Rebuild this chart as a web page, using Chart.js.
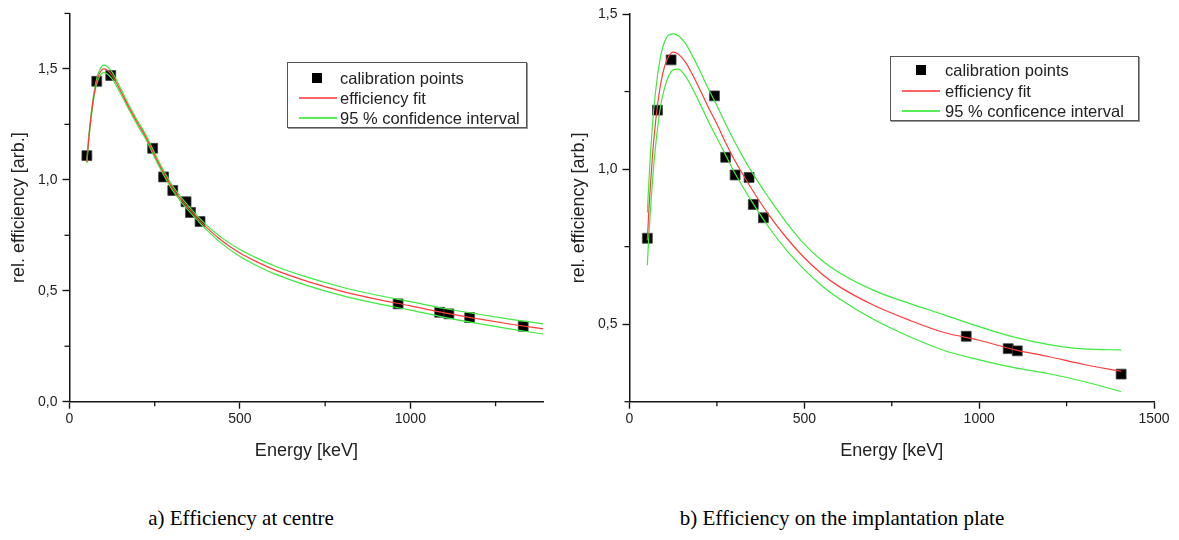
<!DOCTYPE html>
<html>
<head>
<meta charset="utf-8">
<script src="https://cdn.jsdelivr.net/npm/chart.js@4.4.1/dist/chart.umd.min.js"></script>
<style>
  html, body { margin: 0; padding: 0; background: #fff; }
  body { width: 1179px; height: 540px; position: relative; overflow: hidden; font-family: "Liberation Sans", Arial, sans-serif; }
  canvas { position: absolute; top: 0; }
  .leg { position: absolute; border: 1px solid #555; box-shadow: 1px 1px 0 #999; background: #fff; }
  .mk { position: absolute; width: 10px; height: 10px; background: #000; }
  .ln { position: absolute; height: 2px; }
  .tx { position: absolute; font-size: 16.5px; color: #222; white-space: nowrap; line-height: 20px; }
  .cap { position: absolute; font-family: "Liberation Serif", "Times New Roman", serif; font-size: 21px; color: #000; white-space: nowrap; transform: translateX(-50%); }
</style>
</head>
<body>
<canvas id="chartA" width="560" height="470" style="left:0px"></canvas>
<canvas id="chartB" width="619" height="470" style="left:560px"></canvas>
<div id="legA" class="leg" style="left:287px;top:62px;width:238px;height:64px"></div>
<div id="legB" class="leg" style="left:890px;top:56px;width:247px;height:63px"></div>
<div class="cap" style="left:241px;top:506px">a) Efficiency at centre</div>
<div class="cap" style="left:842px;top:506px">b) Efficiency on the implantation plate</div>
<script>
// ---------- (a) Efficiency at centre ----------
const calA_energy = [51, 80, 121, 244, 276, 303, 342, 355, 383, 964, 1086, 1113, 1174, 1331];
const calA_eff    = [1.109, 1.444, 1.470, 1.142, 1.013, 0.952, 0.901, 0.853, 0.812, 0.441, 0.403, 0.396, 0.379, 0.340];
const fitA_energy = [51, 55, 60, 70, 80, 90, 100, 110, 125, 150, 175, 200, 225, 250, 275, 300, 325, 350, 375, 400, 450, 500, 550, 600, 700, 800, 900, 1000, 1100, 1200, 1300, 1390];
const fitA_eff    = [1.08, 1.16, 1.24, 1.365, 1.445, 1.485, 1.50, 1.495, 1.47, 1.40, 1.325, 1.255, 1.19, 1.11, 1.035, 0.968, 0.915, 0.87, 0.828, 0.788, 0.722, 0.670, 0.630, 0.595, 0.541, 0.497, 0.462, 0.432, 0.40, 0.373, 0.348, 0.328];
const upA_eff     = [1.086, 1.168, 1.25, 1.375, 1.457, 1.50, 1.517, 1.512, 1.485, 1.412, 1.335, 1.265, 1.20, 1.12, 1.045, 0.978, 0.925, 0.88, 0.838, 0.798, 0.735, 0.686, 0.647, 0.613, 0.560, 0.516, 0.481, 0.451, 0.42, 0.394, 0.37, 0.351];
const loA_eff     = [1.074, 1.152, 1.23, 1.355, 1.433, 1.47, 1.483, 1.478, 1.455, 1.388, 1.315, 1.245, 1.18, 1.10, 1.025, 0.958, 0.905, 0.86, 0.818, 0.778, 0.709, 0.654, 0.613, 0.577, 0.522, 0.478, 0.443, 0.413, 0.38, 0.352, 0.326, 0.305];
const xMajorA = [0, 500, 1000];
const xMinorA = [250, 750, 1250];
const yMajorA = [0, 0.5, 1.0, 1.5];
const yMinorA = [0.25, 0.75, 1.25, 1.75];

// ---------- (b) Efficiency on the implantation plate ----------
const calB_energy = [51, 80, 119, 243, 275, 302, 342, 354, 383, 963, 1083, 1109, 1406];
const calB_eff    = [0.777, 1.190, 1.352, 1.236, 1.038, 0.981, 0.973, 0.886, 0.843, 0.461, 0.421, 0.414, 0.339];
const fitB_energy = [51, 55, 60, 65, 70, 80, 90, 100, 110, 125, 140, 160, 180, 200, 225, 250, 275, 300, 350, 400, 450, 500, 550, 600, 700, 800, 900, 1000, 1100, 1200, 1300, 1406];
const fitB_eff    = [0.77, 0.86, 0.95, 1.03, 1.10, 1.205, 1.28, 1.33, 1.36, 1.377, 1.37, 1.345, 1.305, 1.26, 1.20, 1.145, 1.085, 1.03, 0.935, 0.85, 0.777, 0.714, 0.662, 0.621, 0.560, 0.513, 0.473, 0.448, 0.418, 0.395, 0.37, 0.348];
const upB_eff     = [0.86, 0.95, 1.05, 1.13, 1.20, 1.30, 1.37, 1.41, 1.43, 1.436, 1.43, 1.405, 1.365, 1.32, 1.26, 1.205, 1.145, 1.09, 0.99, 0.905, 0.826, 0.758, 0.705, 0.666, 0.608, 0.567, 0.53, 0.492, 0.458, 0.434, 0.42, 0.417];
const loB_eff     = [0.69, 0.78, 0.87, 0.95, 1.02, 1.13, 1.21, 1.26, 1.295, 1.32, 1.322, 1.30, 1.26, 1.215, 1.155, 1.10, 1.045, 0.99, 0.895, 0.81, 0.737, 0.676, 0.624, 0.582, 0.514, 0.46, 0.415, 0.385, 0.36, 0.34, 0.315, 0.282];
const xMajorB = [0, 500, 1000, 1500];
const xMinorB = [250, 750, 1250];
const yMajorB = [0.5, 1.0, 1.5];
const yMinorB = [0.25, 0.75, 1.25];

const legendLabelsA = ["calibration points", "efficiency fit", "95 % confidence interval"];
const legendLabelsB = ["calibration points", "efficiency fit", "95 % conficence interval"];

const RED = 'rgb(255,60,60)';
const GREEN = 'rgb(60,235,60)';
const AXIS = '#151515';
const TXT = '#222';

const pairs = (xs, ys) => xs.map((x, i) => ({ x: x, y: ys[i] }));

const minorTicks = {
  id: 'minorTicks',
  afterDraw(chart, args, opts) {
    const ctx = chart.ctx;
    const xs = chart.scales.x, ys = chart.scales.y;
    ctx.save();
    ctx.strokeStyle = AXIS;
    ctx.lineWidth = 1.3;
    (opts.x || []).forEach(v => {
      const p = xs.getPixelForValue(v);
      ctx.beginPath(); ctx.moveTo(p, xs.top); ctx.lineTo(p, xs.top + 4.5); ctx.stroke();
    });
    (opts.y || []).forEach(v => {
      const p = ys.getPixelForValue(v);
      ctx.beginPath(); ctx.moveTo(ys.right, p); ctx.lineTo(ys.right - 5, p); ctx.stroke();
    });
    ctx.restore();
  }
};

function makeChart(id, d) {
  const datasets = [
    { label: 'calibration points', data: pairs(d.calE, d.calY), showLine: false,
      pointStyle: 'rect', pointRadius: 7, backgroundColor: '#000', borderColor: '#444', borderWidth: 0.8, order: 10 },
    { label: 'upper', data: pairs(d.fitE, d.up), showLine: true, pointRadius: 0, borderColor: GREEN, borderWidth: 1.2, cubicInterpolationMode: 'monotone', order: 2 },
    { label: 'lower', data: pairs(d.fitE, d.lo), showLine: true, pointRadius: 0, borderColor: GREEN, borderWidth: 1.2, cubicInterpolationMode: 'monotone', order: 2 },
    { label: 'efficiency fit', data: pairs(d.fitE, d.fit), showLine: true, pointRadius: 0, borderColor: RED, borderWidth: 1.2, cubicInterpolationMode: 'monotone', order: 1 }
  ];
  return new Chart(document.getElementById(id), {
    type: 'scatter',
    data: { datasets: datasets },
    options: {
      responsive: false, maintainAspectRatio: false, animation: false,
      devicePixelRatio: 1,
      layout: { padding: { left: 0, top: d.padTop, right: d.padRight, bottom: 0 } },
      plugins: { legend: { display: false }, tooltip: { enabled: false }, minorTicks: { x: d.xMinor, y: d.yMinor } },
      scales: {
        x: {
          type: 'linear', min: d.xMin, max: d.xMax,
          afterBuildTicks: s => { s.ticks = d.xMajor.map(v => ({ value: v })); },
          afterFit: s => { s.height = 68.3; },
          border: { display: true, color: AXIS, width: 1.5 },
          grid: { display: true, drawOnChartArea: false, drawTicks: true, tickLength: 7, tickWidth: 1.4, tickColor: AXIS },
          ticks: { color: TXT, font: { family: 'Liberation Sans', size: 14 }, padding: 2, maxRotation: 0,
                   callback: v => String(v) },
          title: { display: true, text: 'Energy [keV]', color: TXT, font: { family: 'Liberation Sans', size: 18 }, padding: { top: 0, bottom: 8 } }
        },
        y: {
          type: 'linear', min: d.yMin, max: d.yMax,
          afterBuildTicks: s => { s.ticks = d.yMajor.map(v => ({ value: v })); },
          afterFit: s => { s.width = 69.5; },
          border: { display: true, color: AXIS, width: 1.5 },
          grid: { display: true, drawOnChartArea: false, drawTicks: true, tickLength: 7, tickWidth: 1.4, tickColor: AXIS },
          ticks: { color: TXT, font: { family: 'Liberation Sans', size: 14 }, padding: 5,
                   callback: v => v.toFixed(1).replace('.', ',') },
          title: { display: true, text: 'rel. efficiency [arb.]', color: TXT, font: { family: 'Liberation Sans', size: 18 }, padding: { top: 8, bottom: 0 } }
        }
      }
    },
    plugins: [minorTicks]
  });
}

makeChart('chartA', {
  calE: calA_energy, calY: calA_eff, fitE: fitA_energy, fit: fitA_eff, up: upA_eff, lo: loA_eff,
  xMin: 0, xMax: 1390, yMin: 0, yMax: 1.75,
  xMajor: xMajorA, xMinor: xMinorA, yMajor: yMajorA, yMinor: yMinorA,
  padTop: 13.3, padRight: 16.7
});
makeChart('chartB', {
  calE: calB_energy, calY: calB_eff, fitE: fitB_energy, fit: fitB_eff, up: upB_eff, lo: loB_eff,
  xMin: 0, xMax: 1500, yMin: 0.25, yMax: 1.5,
  xMajor: xMajorB, xMinor: xMinorB, yMajor: yMajorB, yMinor: yMinorB,
  padTop: 14, padRight: 25
});

function buildLegend(id, labels, rowYs, markX, lineX0, lineX1, textX) {
  const box = document.getElementById(id);
  const colors = [null, 'rgba(255,60,60,0.8)', 'rgba(60,235,60,0.85)'];
  labels.forEach((lab, i) => {
    const y = rowYs[i];
    if (i === 0) {
      const m = document.createElement('div'); m.className = 'mk';
      m.style.left = (markX - 5) + 'px'; m.style.top = (y - 5) + 'px'; box.appendChild(m);
    } else {
      const l = document.createElement('div'); l.className = 'ln';
      l.style.left = lineX0 + 'px'; l.style.width = (lineX1 - lineX0) + 'px';
      l.style.top = (y - 1) + 'px'; l.style.background = colors[i]; box.appendChild(l);
    }
    const t = document.createElement('div'); t.className = 'tx';
    t.style.left = textX + 'px'; t.style.top = (y - 10) + 'px'; t.textContent = lab; box.appendChild(t);
  });
}
// positions relative to each legend box
buildLegend('legA', legendLabelsA, [15, 35, 55], 29, 11, 49, 52);
buildLegend('legB', legendLabelsB, [13, 34, 54], 30, 11, 49, 54);
</script>
</body>
</html>
